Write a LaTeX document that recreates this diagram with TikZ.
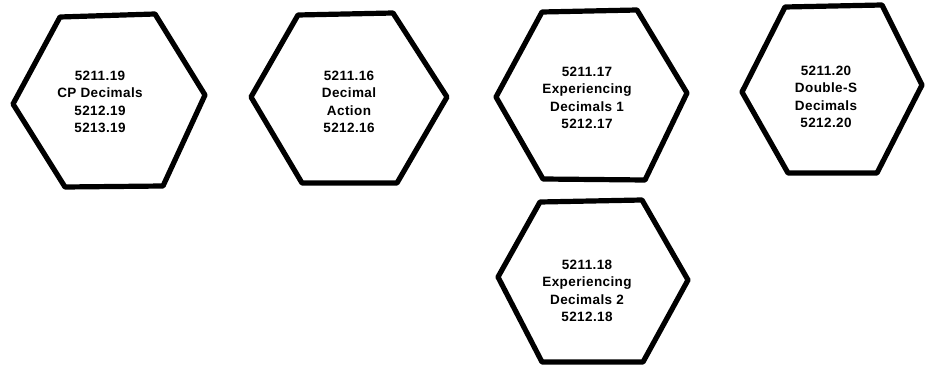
\documentclass[tikz,border=0pt]{standalone}
\usepackage{fontspec}
\setmainfont{Liberation Sans}[LetterSpace=3]
\begin{document}
\begin{tikzpicture}[x=1pt,y=-1pt,
  hexline/.style={line width=5.2pt,line join=round,black},
  hextext/.style={align=center,font=\fontsize{13.5}{17.3}\selectfont\bfseries,inner sep=0pt}]
\useasboundingbox[fill=white] (0,0) rectangle (926,366);
% hexagon outlines
\draw[hexline] (60,17) -- (155,14) -- (205,95) -- (163,186) -- (65,187) -- (13,104) -- cycle;
\draw[hexline] (298,15) -- (393,13) -- (447,97) -- (397,183) -- (302,183) -- (251,97) -- cycle;
\draw[hexline] (542,12) -- (637,10) -- (687,93) -- (645,180) -- (543,179) -- (496,97) -- cycle;
\draw[hexline] (785,7) -- (882,5) -- (922,85) -- (877,173) -- (788,173) -- (742,92) -- cycle;
\draw[hexline] (540,202) -- (642,200) -- (688,280) -- (643,362) -- (542,362) -- (498,277) -- cycle;
% labels
\node[hextext] (h1) at (100,102) {5211.19\\CP Decimals\\5212.19\\5213.19};
\node[hextext] (h2) at (349,102) {5211.16\\Decimal\\Action\\5212.16};
\node[hextext] (h3) at (587,98) {5211.17\\Experiencing\\Decimals 1\\5212.17};
\node[hextext] (h4) at (826,97) {5211.20\\Double-S\\Decimals\\5212.20};
\node[hextext] (h5) at (587,291) {5211.18\\Experiencing\\Decimals 2\\5212.18};
\end{tikzpicture}
\end{document}
